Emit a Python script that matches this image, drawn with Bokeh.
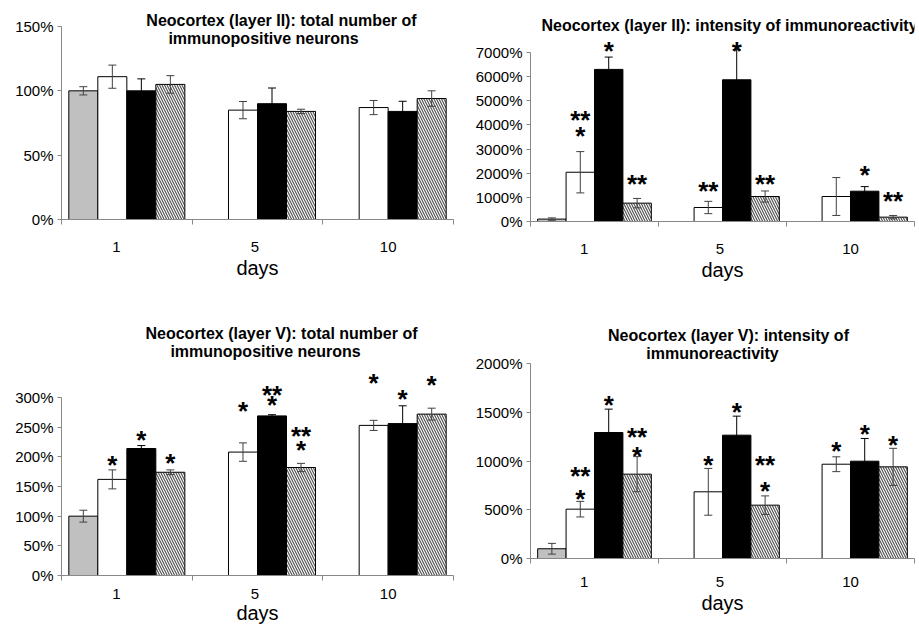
from bokeh.plotting import figure
from bokeh.models import (ColumnDataSource, Whisker, TeeHead, FixedTicker,
                          PrintfTickFormatter, Range1d, Label)
from bokeh.layouts import column, row
from bokeh.embed import file_html
from bokeh.resources import INLINE
from bokeh.core.properties import value

FONT = "Liberation Sans"

# ---------------- data ----------------
days = ["1", "5", "10"]
series = ["control", "group 1", "group 2", "group 3"]

# Panel A: Neocortex (layer II) total number of immunopositive neurons
a_title = ["Neocortex (layer II): total number of", "immunopositive neurons"]
a_yticks = [0, 50, 100, 150]
a_control = [100, None, None]
a_control_err = [3.2, None, None]
a_g1 = [111, 85, 87]
a_g1_err = [9, 6.7, 5.5]
a_g2 = [100, 90, 84]
a_g2_err = [9.3, 12.2, 7.9]
a_g3 = [105, 84, 94]
a_g3_err = [6.8, 1.7, 6]
a_stars = []

# Panel B: Neocortex (layer II) intensity of immunoreactivity
b_title = ["Neocortex (layer II): intensity of immunoreactivity"]
b_yticks = [0, 1000, 2000, 3000, 4000, 5000, 6000, 7000]
b_control = [100, None, None]
b_control_err = [50, None, None]
b_g1 = [2040, 580, 1035]
b_g1_err = [855, 255, 785]
b_g2 = [6300, 5870, 1255]
b_g2_err = [510, 1250, 190]
b_g3 = [760, 1035, 180]
b_g3_err = [195, 230, 70]
# (day index, series index, mark, y)
b_stars = [(0, 1, "**", 4308), (0, 1, "*", 3645), (0, 2, "*", 7207),
           (0, 3, "**", 1698), (1, 1, "**", 1367), (1, 2, "*", 7207),
           (1, 3, "**", 1698), (2, 2, "*", 2030), (2, 3, "**", 994)]

# Panel C: Neocortex (layer V) total number of immunopositive neurons
c_title = ["Neocortex (layer V): total number of", "immunopositive neurons"]
c_yticks = [0, 50, 100, 150, 200, 250, 300]
c_control = [100, None, None]
c_control_err = [10, None, None]
c_g1 = [162, 208, 253]
c_g1_err = [16, 15.5, 8.5]
c_g2 = [214, 269, 256]
c_g2_err = [5, 2, 30]
c_g3 = [174, 182, 272]
c_g3_err = [4, 7, 10]
c_stars = [(0, 1, "*", 190.6), (0, 2, "*", 233.7), (0, 3, "*", 194),
           (1, 1, "*", 281.8), (1, 2, "**", 310), (1, 2, "*", 293),
           (1, 3, "**", 240), (1, 3, "*", 217), (2, 1, "*", 330),
           (2, 2, "*", 301.7), (2, 3, "*", 326.5)]

# Panel D: Neocortex (layer V) intensity of immunoreactivity
d_title = ["Neocortex (layer V): intensity of", "immunoreactivity"]
d_yticks = [0, 500, 1000, 1500, 2000]
d_control = [100, None, None]
d_control_err = [55, None, None]
d_g1 = [506, 684, 967]
d_g1_err = [80, 240, 76]
d_g2 = [1292, 1265, 998]
d_g2_err = [240, 195, 233]
d_g3 = [865, 547, 940]
d_g3_err = [180, 95, 190]
d_stars = [(0, 1, "**", 872), (0, 1, "*", 646), (0, 2, "*", 1610),
           (0, 3, "**", 1282), (0, 3, "*", 1077), (1, 1, "*", 985),
           (1, 2, "*", 1538), (1, 3, "**", 985), (1, 3, "*", 718),
           (2, 1, "*", 1138), (2, 2, "*", 1303), (2, 3, "*", 1190)]

# ---------------- styling ----------------
SLOT = 0.222
FILLS = ["#c0c0c0", "white", "black", "white"]
HATCH = [None, None, None, "\\"]
ERR_COLS = ["#404040", "#404040", "black", "#404040"]
AXIS_COL = "#888888"
LABEL_POS = [0.42, 1.48, 2.5]


def make_panel(vals, errs, yticks, title_lines, title_pos, stars,
               width, height, mbl, mbr, mbb, y_end, label_standoff, axis_standoff):
    p = figure(width=width, height=height, output_backend="svg", toolbar_location=None,
               x_range=Range1d(0, 3), y_range=Range1d(0, y_end),
               min_border_left=mbl, min_border_right=mbr, min_border_top=0,
               min_border_bottom=mbb)
    p.outline_line_color = None
    p.grid.visible = False
    p.background_fill_color = "white"
    p.border_fill_color = "white"

    for j in range(4):
        xs, tops, ups, lows = [], [], [], []
        for i in range(3):
            v = vals[j][i]
            if v is None:
                continue
            xs.append(i + 0.5 + (j - 1.5) * SLOT)
            tops.append(v)
            ups.append(v + errs[j][i])
            lows.append(v - errs[j][i])
        src = ColumnDataSource(dict(x=xs, top=tops, upper=ups, lower=lows))
        kw = dict(x="x", top="top", bottom=0, width=SLOT, source=src,
                  fill_color=FILLS[j], line_color="black", line_width=1)
        if HATCH[j]:
            kw.update(hatch_pattern=HATCH[j], hatch_color="#555555",
                      hatch_scale=5, hatch_weight=1.2)
        p.vbar(**kw)
        ec = ERR_COLS[j]
        p.add_layout(Whisker(base="x", upper="upper", lower="lower", source=src,
                             dimension="height", line_color=ec, line_width=1,
                             level="overlay",
                             upper_head=TeeHead(size=8, line_color=ec),
                             lower_head=TeeHead(size=8, line_color=ec)))

    if stars:
        sx = [d + 0.5 + (s - 1.5) * SLOT for d, s, _, _ in stars]
        sy = [y for _, _, _, y in stars]
        st = [t for _, _, t, _ in stars]
        ssrc = ColumnDataSource(dict(x=sx, y=sy, t=st))
        p.text(x="x", y="y", text="t", source=ssrc, text_font=value(FONT),
               text_font_style="bold", text_font_size="26px", text_align="center",
               text_baseline="middle", text_color="black", y_offset=3)

    for line, (tx, ty) in zip(title_lines, title_pos):
        p.add_layout(Label(x=tx, y=ty, text=line, text_font=FONT, text_font_style="bold",
                           text_font_size="16px", text_align="center",
                           text_baseline="middle", text_color="black"))

    # x axis
    xa = p.xaxis[0]
    xa.ticker = FixedTicker(ticks=LABEL_POS, minor_ticks=[0, 1, 2, 3])
    xa.major_label_overrides = {LABEL_POS[k]: days[k] for k in range(3)}
    xa.major_tick_out = 0
    xa.major_tick_in = 0
    xa.minor_tick_out = 5
    xa.minor_tick_in = 0
    xa.minor_tick_line_color = AXIS_COL
    xa.axis_line_color = AXIS_COL
    xa.major_label_text_font = FONT
    xa.major_label_text_font_size = "15px"
    xa.major_label_text_color = "black"
    xa.major_label_standoff = label_standoff
    xa.axis_label = "days"
    xa.axis_label_text_font = FONT
    xa.axis_label_text_font_size = "20px"
    xa.axis_label_text_font_style = "normal"
    xa.axis_label_text_color = "black"
    xa.axis_label_standoff = axis_standoff

    ya = p.yaxis[0]
    ya.ticker = FixedTicker(ticks=yticks)
    ya.bounds = (yticks[0], yticks[-1])
    ya.formatter = PrintfTickFormatter(format="%d%%")
    ya.major_tick_out = 4
    ya.major_tick_in = 0
    ya.minor_tick_line_color = None
    ya.axis_line_color = AXIS_COL
    ya.major_tick_line_color = AXIS_COL
    ya.major_label_text_font = FONT
    ya.major_label_text_font_size = "15px"
    ya.major_label_text_color = "black"
    ya.major_label_standoff = 4
    return p


def px2data(px, py, fl, fr, fb, ft, y_end):
    # convert a page pixel position into data coordinates of a panel
    return (3 * (px - fl) / (fr - fl), y_end * (fb - py) / (fb - ft))


# frames (page pixels): A 61..453 x 0..219, B 530..914 x 0..221,
# C 61..453 x 310..575, D 530..914 x 310..558
yA = 150 * (219 - 0) / (219 - 26)
yB = 7000 * (221 - 0) / (221 - 52)
yC = 300 * (575 - 310) / (575 - 397)
yD = 2000 * (558 - 310) / (558 - 363)

pA = make_panel([a_control, a_g1, a_g2, a_g3], [a_control_err, a_g1_err, a_g2_err, a_g3_err],
                a_yticks, a_title,
                [px2data(281, 20, 61, 453, 219, 0, yA), px2data(263, 38, 61, 453, 219, 0, yA)],
                a_stars, 460, 310, 61, 7, 91, yA, 17, 2)
pB = make_panel([b_control, b_g1, b_g2, b_g3], [b_control_err, b_g1_err, b_g2_err, b_g3_err],
                b_yticks, b_title,
                [px2data(729, 25, 530, 914, 221, 0, yB)],
                b_stars, 459, 310, 70, 5, 89, yB, 17, 2)
pC = make_panel([c_control, c_g1, c_g2, c_g3], [c_control_err, c_g1_err, c_g2_err, c_g3_err],
                c_yticks, c_title,
                [px2data(281, 333, 61, 453, 575, 310, yC), px2data(265, 351, 61, 453, 575, 310, yC)],
                c_stars, 460, 317, 61, 7, 52, yC, 8, 0)
pD = make_panel([d_control, d_g1, d_g2, d_g3], [d_control_err, d_g1_err, d_g2_err, d_g3_err],
                d_yticks, d_title,
                [px2data(728, 335, 530, 914, 558, 310, yD), px2data(712, 353, 530, 914, 558, 310, yD)],
                d_stars, 459, 317, 70, 5, 69, yD, 13, 2)

layout = row(column(pA, pC), column(pB, pD))
open("out.html", "w").write(file_html(layout, INLINE))
